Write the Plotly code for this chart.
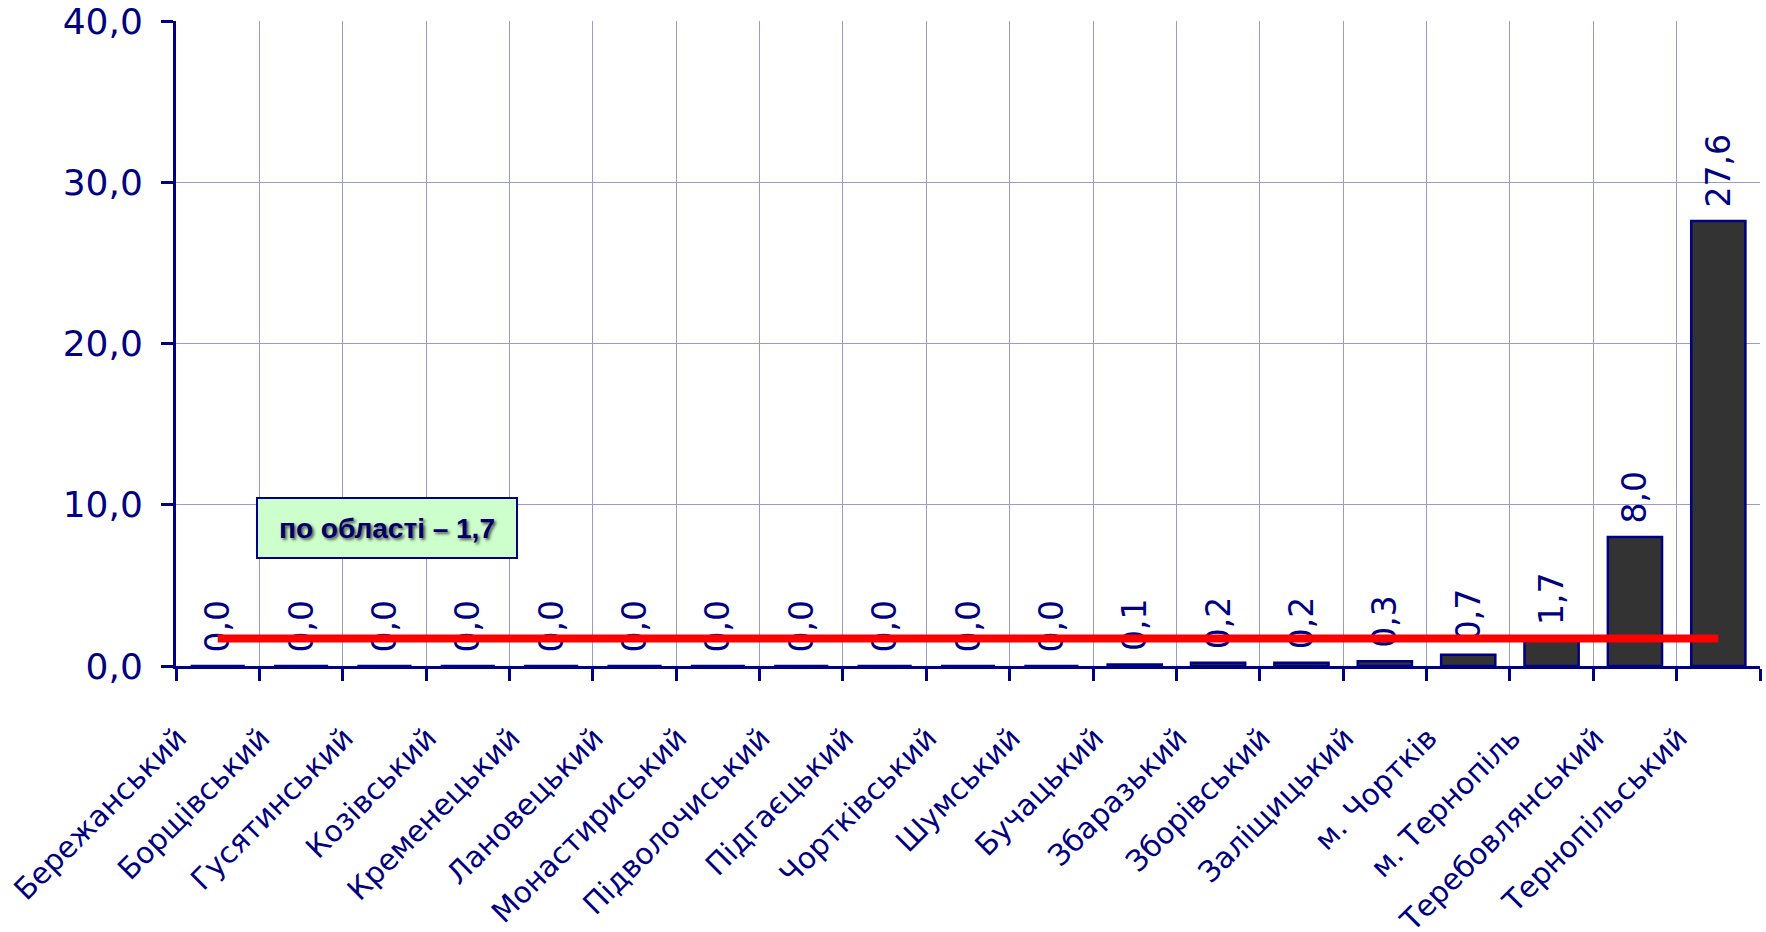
import plotly.graph_objects as go

districts = [
    "Бережанський", "Борщівський", "Гусятинський", "Козівський",
    "Кременецький", "Лановецький", "Монастириський", "Підволочиський",
    "Підгаєцький", "Чортківський", "Шумський", "Бучацький",
    "Збаразький", "Зборівський", "Заліщицький", "м. Чортків",
    "м. Тернопіль", "Теребовлянський", "Тернопільський",
]
values = [0.0, 0.0, 0.0, 0.0, 0.0, 0.0, 0.0, 0.0, 0.0, 0.0, 0.0,
          0.1, 0.2, 0.2, 0.3, 0.7, 1.7, 8.0, 27.6]
region_avg = 1.7
avg_label = "по області – 1,7"
y_ticks = [0, 10, 20, 30, 40]

NAVY = "#000080"
GRID = "#9a9acc"
FONT = "DejaVu Sans"

# trailing no-break spaces shift the slanted labels like in the original
cats = [d + "\u00a0" * 6 for d in districts]

fig = go.Figure()
fig.add_trace(go.Bar(
    x=cats, y=values,
    width=0.65,
    marker=dict(color="#333333", line=dict(color=NAVY, width=2.5)),
    texttemplate="\u00a0%{y:.1f}",
    textposition="outside",
    textangle=-90,
    constraintext="none",
    cliponaxis=False,
    textfont=dict(family=FONT, size=33, color=NAVY),
    showlegend=False,
))
fig.add_trace(go.Scatter(
    x=cats, y=[region_avg] * len(cats),
    mode="lines",
    line=dict(color="#ff0000", width=8),
    showlegend=False,
    hoverinfo="skip",
))

fig.add_annotation(
    x=0.133, xref="paper", y=8.53, yref="y",
    text=f"<b>{avg_label}</b>",
    showarrow=False,
    font=dict(family="Liberation Sans", size=28, color="#000066",
              shadow="2px 2px 3px #555555"),
    bgcolor="#ccffcc",
    bordercolor=NAVY, borderwidth=2, borderpad=0,
    width=258, height=58,
    xanchor="center", yanchor="middle",
)

fig.update_layout(
    width=1766, height=932,
    margin=dict(l=176, r=6, t=21, b=266),
    paper_bgcolor="white", plot_bgcolor="white",
    separators=", ",
)
fig.update_xaxes(
    type="category",
    automargin=False,
    tickson="boundaries",
    showgrid=True, gridcolor=GRID, gridwidth=1,
    showline=True, linecolor=NAVY, linewidth=3,
    ticks="outside", ticklen=12, tickwidth=3, tickcolor=NAVY,
    tickangle=-45,
    ticklabelstandoff=0,
    tickfont=dict(family=FONT, size=29.5, color=NAVY),
    range=[-0.5, len(cats) - 0.5],
)
fig.update_yaxes(
    automargin=False,
    range=[0, 40],
    tickvals=y_ticks,
    tickformat=".1f",
    showgrid=True, gridcolor=GRID, gridwidth=1,
    zeroline=False,
    showline=True, linecolor=NAVY, linewidth=3,
    ticks="outside", ticklen=12, tickwidth=3, tickcolor=NAVY,
    ticklabelstandoff=11,
    tickfont=dict(family=FONT, size=36, color=NAVY),
)

fig.write_html("out.html", config={"displayModeBar": False},
               post_script="document.body.style.margin='0px';")
